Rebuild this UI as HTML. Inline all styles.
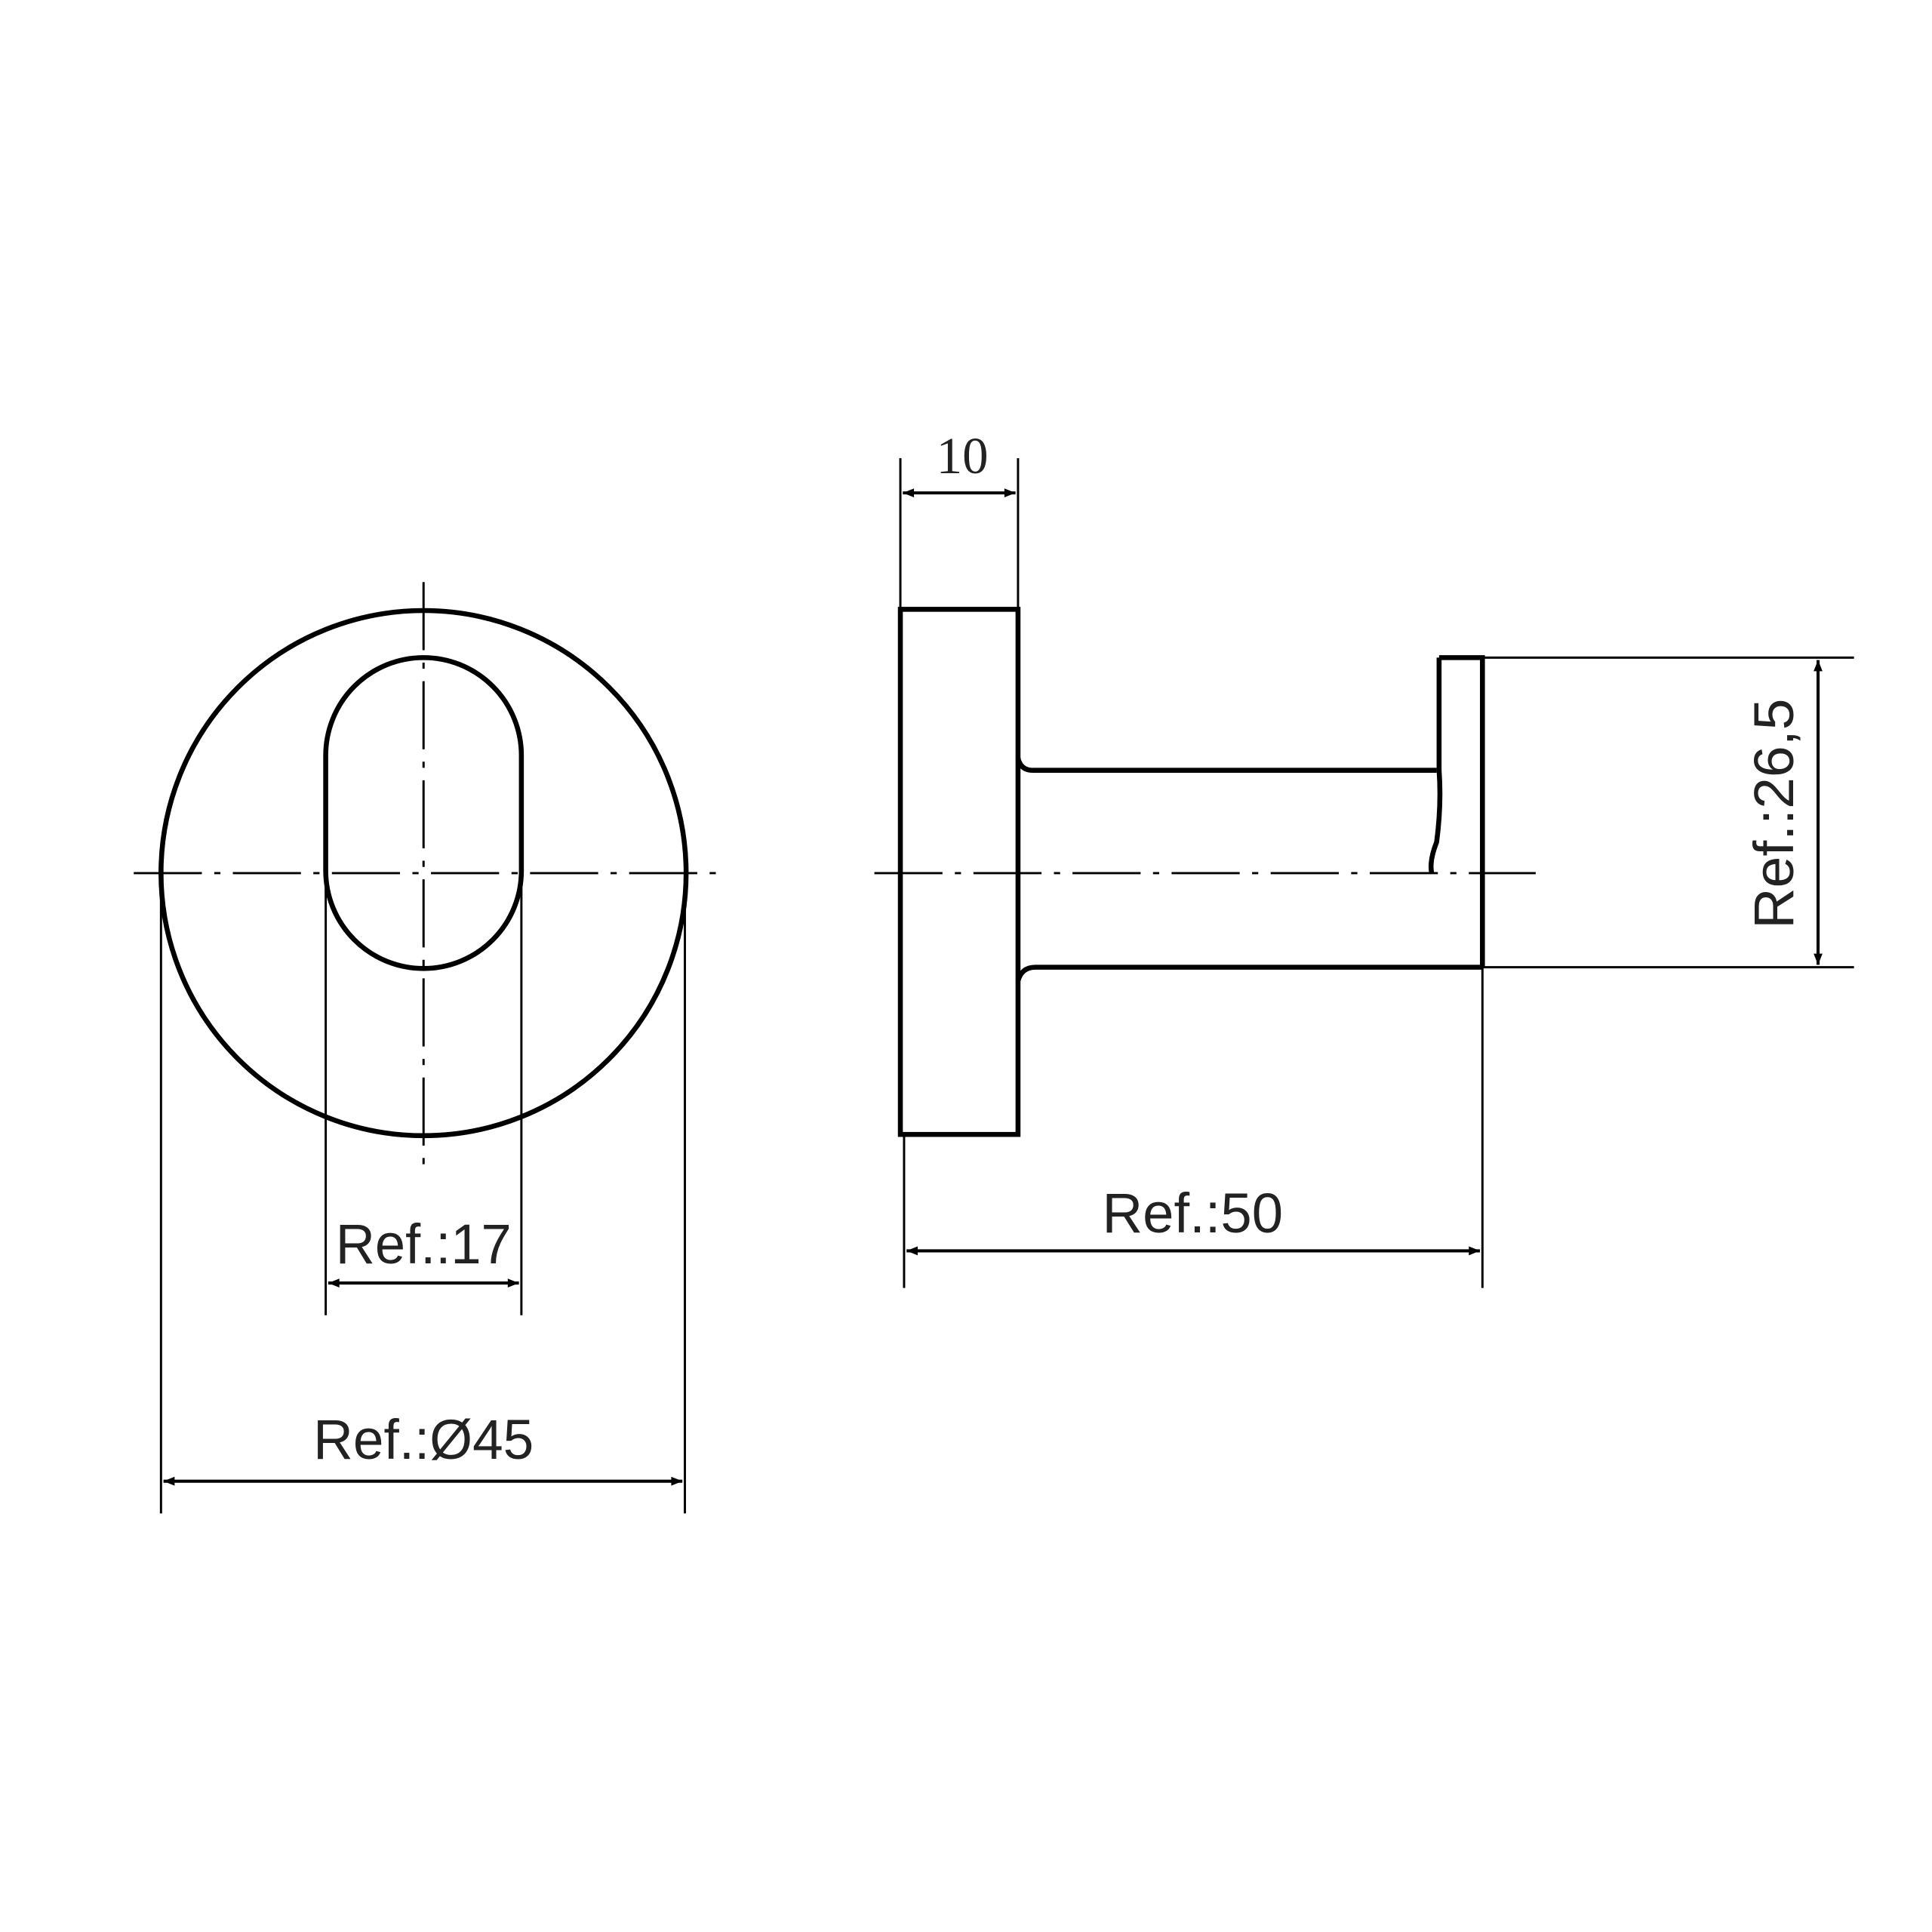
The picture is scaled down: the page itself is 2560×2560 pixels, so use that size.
<!DOCTYPE html>
<html><head><style>html,body{margin:0;padding:0;background:#fff}svg{display:block}</style></head>
<body>
<svg width="2560" height="2560" viewBox="0 0 1560 1560" xmlns="http://www.w3.org/2000/svg">
<defs>
<marker id="a" viewBox="0 0 10 10" refX="10" refY="5" markerWidth="16" markerHeight="9" markerUnits="userSpaceOnUse" orient="auto-start-reverse"><path d="M0,1 L10,5 L0,9 z" fill="#000"/></marker>
</defs>
<g fill="none" stroke="#000" stroke-width="4">
<circle cx="342" cy="705" r="212"/>
<path d="M263,610 A79,79 0 0 1 421,610 L421,703 A79,79 0 0 1 263,703 Z"/>
<rect x="727" y="492" width="95" height="424"/>
<path d="M822,612 Q824,622 834,622 L1160,622"/>
<path d="M822,792 Q825,781 836,781 L1197,781"/>
<path d="M1162,531 L1197,531 L1197,781 M1162,531 L1162,622 Q1164,650 1160,680 Q1154,695 1156,705"/>
</g>
<g fill="none" stroke="#000" stroke-width="1.8">
<path d="M342,470 V940 M108,705 H578 M706,705 H1240" stroke-dasharray="55,10,5,10"/>
<path d="M263,705 V1062 M421,705 V1062 M130,705 V1222 M553,705 V1222"/>
<path d="M727,370 V492 M822,370 V492 M730,916 V1040 M1197,781 V1040 M1197,531 H1497 M1197,781 H1497"/>
</g>
<g stroke="#000" stroke-width="2.5" fill="none">
<line x1="265" y1="1036" x2="419" y2="1036" marker-start="url(#a)" marker-end="url(#a)"/>
<line x1="132" y1="1196" x2="551" y2="1196" marker-start="url(#a)" marker-end="url(#a)"/>
<line x1="729" y1="398" x2="820" y2="398" marker-start="url(#a)" marker-end="url(#a)"/>
<line x1="732" y1="1010" x2="1195" y2="1010" marker-start="url(#a)" marker-end="url(#a)"/>
<line x1="1468" y1="533" x2="1468" y2="779" marker-start="url(#a)" marker-end="url(#a)"/>
</g>
<g font-family="'Liberation Sans', sans-serif" font-size="45" fill="#222" text-anchor="middle">
<text x="342" y="1020" textLength="142" lengthAdjust="spacingAndGlyphs">Ref.:17</text>
<text x="342" y="1178" textLength="178" lengthAdjust="spacingAndGlyphs">Ref.:Ø45</text>
<text x="963" y="995" textLength="146" lengthAdjust="spacingAndGlyphs">Ref.:50</text>
<text x="777" y="382" font-family="'Liberation Serif', serif" font-size="42">10</text>
<text x="0" y="0" transform="translate(1448,657) rotate(-90)" textLength="186" lengthAdjust="spacingAndGlyphs">Ref.:26,5</text>
</g>
</svg>
</body></html>
